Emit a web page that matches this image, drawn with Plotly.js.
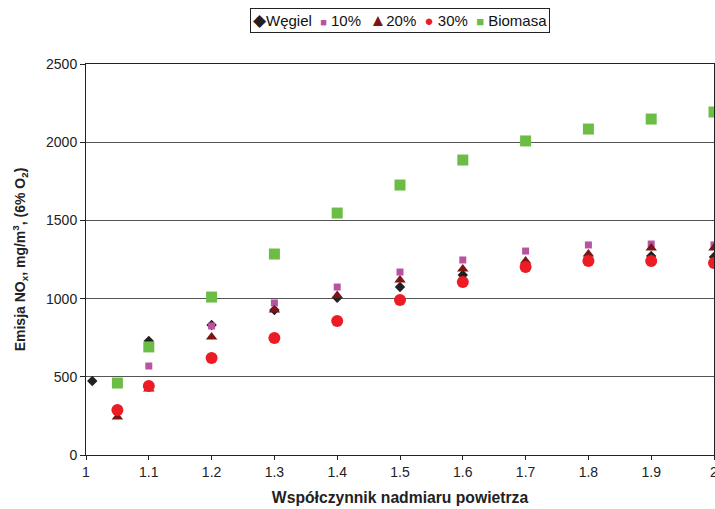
<!DOCTYPE html>
<html>
<head>
<meta charset="utf-8">
<script src="https://cdn.plot.ly/plotly-3.0.1.min.js"></script>
<style>html,body{margin:0;padding:0;background:#fff;}#chart{width:715px;height:509px;}</style>
</head>
<body>
<div id="chart"></div>
<script>
// Data
const seriesNames = ["Węgiel", "10%", "20%", "30%", "Biomasa"];
const xWegiel = [1.01, 1.1, 1.2, 1.3, 1.4, 1.5, 1.6, 1.7, 1.8, 1.9, 2.0];
const yWegiel = [473, 729, 831, 927, 1005, 1074, 1151, 1215, 1260, 1272, 1266];
const x10 = [1.1, 1.2, 1.3, 1.4, 1.5, 1.6, 1.7, 1.8, 1.9, 2.0];
const y10 = [569, 825, 972, 1074, 1170, 1247, 1304, 1343, 1349, 1343];
const x20 = [1.05, 1.1, 1.2, 1.3, 1.4, 1.5, 1.6, 1.7, 1.8, 1.9, 2.0];
const y20 = [243, 422, 754, 927, 1020, 1119, 1189, 1240, 1285, 1323, 1323];
const x30 = [1.05, 1.1, 1.2, 1.3, 1.4, 1.5, 1.6, 1.7, 1.8, 1.9, 2.0];
const y30 = [288, 441, 620, 748, 857, 991, 1106, 1202, 1240, 1240, 1228];
const xBio = [1.05, 1.1, 1.2, 1.3, 1.4, 1.5, 1.6, 1.7, 1.8, 1.9, 2.0];
const yBio = [460, 691, 1010, 1285, 1547, 1726, 1886, 2008, 2084, 2148, 2193];
const xTickVals = [1, 1.1, 1.2, 1.3, 1.4, 1.5, 1.6, 1.7, 1.8, 1.9, 2];
const xTickText = ["1", "1.1", "1.2", "1.3", "1.4", "1.5", "1.6", "1.7", "1.8", "1.9", "2"];

const colors = ["#231f20", "#b9529f", "#7d1416", "#ed1c24", "#6cbd45"];
const symbols = ["diamond", "square", "triangle-up", "circle", "square"];
const sizes = [8, 7, 10, 12, 11];
const glyphs = ["◆", "■", "▲", "●", "■"];
const glyphSizes = [17, 11, 17, 15, 13];
const seps = ["", "&nbsp;", "", "&nbsp;", "&nbsp;"];

const xs = [xWegiel, x10, x20, x30, xBio];
const ys = [yWegiel, y10, y20, y30, yBio];

const traces = seriesNames.map((n, i) => ({
  type: "scatter", mode: "markers", name: n,
  x: xs[i], y: ys[i], cliponaxis: false, showlegend: false,
  marker: {symbol: symbols[i], size: sizes[i], color: colors[i], line: {width: 0}}
}));

const legendText = seriesNames.map((n, i) =>
  `<span style="color:${colors[i]};font-size:${glyphSizes[i]}px">${glyphs[i]}</span>${seps[i]}${n}`
).join("&nbsp;&nbsp;");

const font = "Liberation Sans, Arial, sans-serif";
const layout = {
  width: 715, height: 509,
  margin: {l: 86, r: 1, t: 64, b: 54},
  paper_bgcolor: "#fff", plot_bgcolor: "#fff",
  font: {family: font, size: 14, color: "#222"},
  showlegend: false,
  xaxis: {
    range: [1, 2], tickvals: xTickVals, ticktext: xTickText,
    ticks: "outside", ticklen: 4, tickcolor: "#222",
    ticklabeloverflow: "allow",
    showline: true, linecolor: "#222", linewidth: 1, mirror: true,
    showgrid: false, zeroline: false,
    tickfont: {size: 14, color: "#222"},
    title: {text: "<b>Współczynnik nadmiaru powietrza</b>", font: {size: 15.7, color: "#222"}, standoff: 13}
  },
  yaxis: {
    range: [0, 2500], dtick: 500,
    ticks: "outside", ticklen: 5, tickcolor: "#222",
    showline: true, linecolor: "#222", linewidth: 1, mirror: true,
    showgrid: true, gridcolor: "#555", gridwidth: 1, zeroline: false,
    tickfont: {size: 14, color: "#222"},
    title: {text: "<b>Emisja NO<sub>x</sub>, mg/m<sup>3</sup>, (6% O<sub>2</sub>)</b>", font: {size: 14, color: "#222"}, standoff: 17}
  },
  annotations: [{
    xref: "paper", yref: "paper", x: 0.5, y: 1 + 44/391,
    xanchor: "center", yanchor: "middle", showarrow: false,
    text: legendText, font: {family: font, size: 15, color: "#111"},
    bordercolor: "#222", borderwidth: 1, borderpad: 2, bgcolor: "#fff"
  }]
};

Plotly.newPlot("chart", traces, layout, {displayModeBar: false, staticPlot: true});
</script>
</body>
</html>
